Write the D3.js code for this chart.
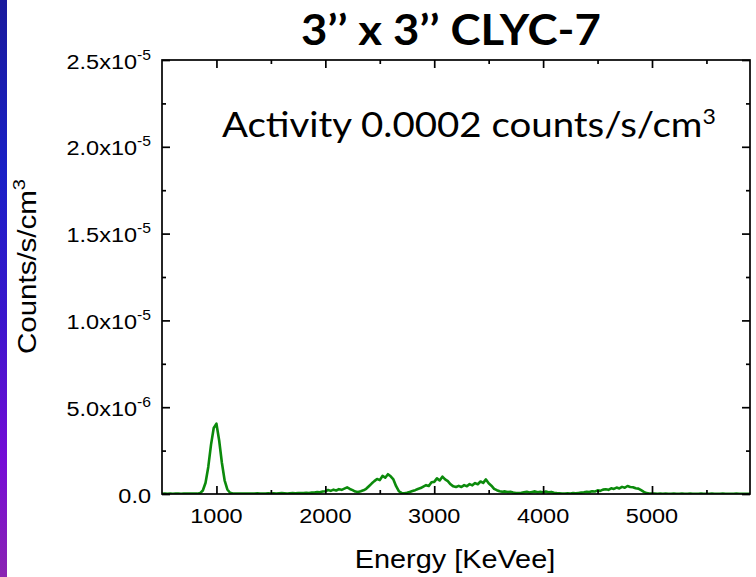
<!DOCTYPE html>
<html><head><meta charset="utf-8">
<script src="https://cdn.jsdelivr.net/npm/d3@7"></script>
<style>body{margin:0;background:#fff}svg{display:block}</style>
</head><body><svg id="c" width="756" height="577"></svg>
<script>
// ---- data (energy in keV, counts in units of 1e-6 counts/s/cm^3) ----
const energies = [
 500,525,550,575,600,625,650,675,700,725,750,775,800,825,850,875,900,925,950,975,
 1000,1025,1050,1075,1100,1125,1150,1175,1200,1225,1250,1275,1300,1325,1350,1375,1400,1425,1450,1475,
 1500,1525,1550,1575,1600,1625,1650,1675,1700,1725,1750,1775,1800,1825,1850,1875,1900,1925,1950,1975,
 2000,2025,2050,2075,2100,2125,2150,2175,2200,2225,2250,2275,2300,2325,2350,2375,2400,2425,2450,2475,
 2500,2525,2550,2575,2600,2625,2650,2675,2700,2725,2750,2775,2800,2825,2850,2875,2900,2925,2950,2975,
 3000,3025,3050,3075,3100,3125,3150,3175,3200,3225,3250,3275,3300,3325,3350,3375,3400,3425,3450,3475,
 3500,3525,3550,3575,3600,3625,3650,3675,3700,3725,3750,3775,3800,3825,3850,3875,3900,3925,3950,3975,
 4000,4025,4050,4075,4100,4125,4150,4175,4200,4225,4250,4275,4300,4325,4350,4375,4400,4425,4450,4475,
 4500,4525,4550,4575,4600,4625,4650,4675,4700,4725,4750,4775,4800,4825,4850,4875,4900,4925,4950,4975,
 5000,5025,5050,5075,5100,5125,5150,5175,5200,5225,5250,5275,5300,5325,5350,5375,5400,5425,5450,5475,
 5500,5525,5550,5575,5600,5625,5650,5675,5700,5725,5750,5775,5800,5825,5850,5875,5900
];
const counts = [
 0.01,0.02,0.01,0.02,0.01,0.02,0.02,0.01,0.02,0.03,0.02,0.02,0.03,0.02,0.05,0.20,0.65,1.56,2.83,3.80,
 4.05,3.08,1.80,0.79,0.26,0.07,0.03,0.02,0.02,0.03,0.02,0.02,0.03,0.02,0.03,0.04,0.03,0.02,0.03,0.04,
 0.03,0.04,0.03,0.04,0.05,0.04,0.03,0.04,0.05,0.04,0.05,0.06,0.05,0.07,0.06,0.08,0.09,0.11,0.10,0.14,
 0.16,0.23,0.18,0.25,0.20,0.28,0.24,0.31,0.38,0.29,0.22,0.14,0.12,0.16,0.21,0.30,0.45,0.60,0.74,0.86,
 0.80,1.04,0.94,1.14,1.02,0.84,0.45,0.16,0.06,0.04,0.07,0.12,0.17,0.22,0.29,0.34,0.43,0.51,0.46,0.68,
 0.70,0.90,0.78,1.00,0.84,0.74,0.56,0.44,0.40,0.47,0.40,0.51,0.45,0.57,0.50,0.63,0.56,0.72,0.64,0.84,
 0.62,0.48,0.30,0.22,0.16,0.13,0.15,0.11,0.13,0.09,0.06,0.05,0.07,0.10,0.13,0.09,0.12,0.15,0.10,0.13,
 0.09,0.14,0.10,0.12,0.07,0.05,0.04,0.03,0.03,0.04,0.03,0.05,0.04,0.06,0.08,0.10,0.13,0.11,0.16,0.14,
 0.21,0.18,0.25,0.27,0.24,0.33,0.29,0.37,0.32,0.41,0.36,0.46,0.40,0.39,0.33,0.31,0.22,0.12,0.05,0.03,
 0.02,0.02,0.01,0.02,0.01,0.02,0.01,0.01,0.02,0.01,0.01,0.02,0.01,0.01,0.02,0.01,0.01,0.01,0.02,0.01,
 0.01,0.01,0.02,0.01,0.01,0.01,0.02,0.01,0.01,0.01,0.01,0.02,0.01,0.01,0.01,0.01,0.01
];
const countUnit = 1e-6;
const xDomain = [500, 5900];
const yDomain = [0, 2.5e-5];
const xTicks = [1000, 2000, 3000, 4000, 5000];
const xMinorTicks = [1500, 2500, 3500, 4500, 5500];
const yTicks = [0, 5e-6, 1e-5, 1.5e-5, 2e-5, 2.5e-5];
const yMinorTicks = [2.5e-6, 7.5e-6, 1.25e-5, 1.75e-5, 2.25e-5];
const yTickMantissa = ["0.0", "5.0", "1.0", "1.5", "2.0", "2.5"];
const yTickExponent = ["", "-6", "-5", "-5", "-5", "-5"];
const titleText = "3\u2019\u2019 x 3\u2019\u2019 CLYC-7";
const noteText = "Activity 0.0002 counts/s/cm";
const noteSup = "3";
const xTitle = "Energy [KeVee]";
const yTitle = "Counts/s/cm";
const ySup = "3";

// ---- layout ----
const svg = d3.select("#c");
const L = 162, R = 750, T = 60, B = 494;
const x = d3.scaleLinear().domain(xDomain).range([L, R]);
const y = d3.scaleLinear().domain(yDomain).range([B, T]);
const axisFont = "'Liberation Sans', Arial, sans-serif";
const calFont = "Lato, 'Open Sans', sans-serif";

// left gradient strip
const defs = svg.append("defs");
const grad = defs.append("linearGradient").attr("id", "strip").attr("x1", 0).attr("x2", 0).attr("y1", 0).attr("y2", 1);
[["0%", "#1a1a9c"], ["30%", "#1a20c6"], ["55%", "#3a16cc"], ["80%", "#760cd6"], ["100%", "#8a24b2"]]
  .forEach(([o, c]) => grad.append("stop").attr("offset", o).attr("stop-color", c));
svg.append("rect").attr("x", 0).attr("y", 0).attr("width", 7).attr("height", 577).attr("fill", "url(#strip)");

defs.append("clipPath").attr("id", "plot").append("rect")
  .attr("x", L).attr("y", T).attr("width", R - L).attr("height", B - T);

// data line
const data = energies.map((e, i) => ({ e, v: counts[i] * countUnit }));
svg.append("path").datum(data)
  .attr("clip-path", "url(#plot)")
  .attr("fill", "none").attr("stroke", "#0b8a0b").attr("stroke-width", 2.6)
  .attr("stroke-linejoin", "round")
  .attr("d", d3.line().x(d => x(d.e)).y(d => y(d.v)));

// ticks (inward on all sides)
function ticks(axisFn, scale, vals, size, tr) {
  const g = svg.append("g").attr("transform", tr)
    .call(axisFn(scale).tickValues(vals).tickSize(-size).tickFormat(""));
  g.select(".domain").remove();
  g.selectAll("line").attr("stroke", "#000").attr("stroke-width", 1.7);
}
ticks(d3.axisBottom, x, xTicks, 8, `translate(0,${B})`);
ticks(d3.axisBottom, x, xMinorTicks, 4, `translate(0,${B})`);
ticks(d3.axisTop, x, xTicks, 8, `translate(0,${T})`);
ticks(d3.axisTop, x, xMinorTicks, 4, `translate(0,${T})`);
ticks(d3.axisLeft, y, yTicks, 8, `translate(${L},0)`);
ticks(d3.axisLeft, y, yMinorTicks, 4, `translate(${L},0)`);
ticks(d3.axisRight, y, yTicks, 8, `translate(${R},0)`);
ticks(d3.axisRight, y, yMinorTicks, 4, `translate(${R},0)`);

// frame
svg.append("rect").attr("x", L).attr("y", T).attr("width", R - L).attr("height", B - T)
  .attr("fill", "none").attr("stroke", "#000").attr("stroke-width", 1.7);

// x tick labels
svg.append("g").selectAll("g").data(xTicks).join("g")
  .attr("transform", d => `translate(${x(d)},523) scale(1.12,1)`)
  .append("text").attr("text-anchor", "middle")
  .attr("font-family", axisFont).attr("font-size", 21).attr("fill", "#000")
  .text(d => d);

// y tick labels
const yl = svg.append("g").selectAll("g").data(yTicks).join("g")
  .attr("transform", d => `translate(151,${y(d) + 8.5}) scale(1.12,1)`)
  .append("text").attr("text-anchor", "end")
  .attr("font-family", axisFont).attr("font-size", 21).attr("fill", "#000");
yl.each(function (d, i) {
  const t = d3.select(this);
  if (yTickExponent[i] === "") { t.text(yTickMantissa[i]); return; }
  t.append("tspan").text(yTickMantissa[i] + "x10");
  t.append("tspan").attr("dy", -9).attr("font-size", 14).text(yTickExponent[i]);
});

// axis titles
svg.append("g").attr("transform", "translate(455,568) scale(1.11,1)")
  .append("text").attr("text-anchor", "middle")
  .attr("font-family", axisFont).attr("font-size", 26).attr("fill", "#000").text(xTitle);

const yt = svg.append("g").attr("transform", "translate(36,266.5) rotate(-90) scale(1.18,1)")
  .append("text").attr("text-anchor", "middle")
  .attr("font-family", axisFont).attr("font-size", 25).attr("fill", "#000");
yt.append("tspan").text(yTitle);
yt.append("tspan").attr("dy", -11).attr("font-size", 17).text(ySup);

// title & annotation (fit to measured widths)
function fitted(x0, base, width, build) {
  const g = svg.append("g").attr("transform", `translate(${x0},${base})`);
  const t = g.append("text").attr("fill", "#000");
  build(t);
  const w = t.node().getBBox().width || width;
  g.attr("transform", `translate(${x0},${base}) scale(${width / w},1)`);
}
fitted(301, 45, 300, t => t.attr("font-family", calFont).attr("font-weight", 700)
  .attr("font-size", 42).text(titleText));
fitted(222, 137, 494, t => {
  t.attr("font-family", calFont).attr("font-size", 35);
  t.append("tspan").text(noteText);
  t.append("tspan").attr("dy", -13).attr("font-size", 21).text(noteSup);
});
</script></body></html>
